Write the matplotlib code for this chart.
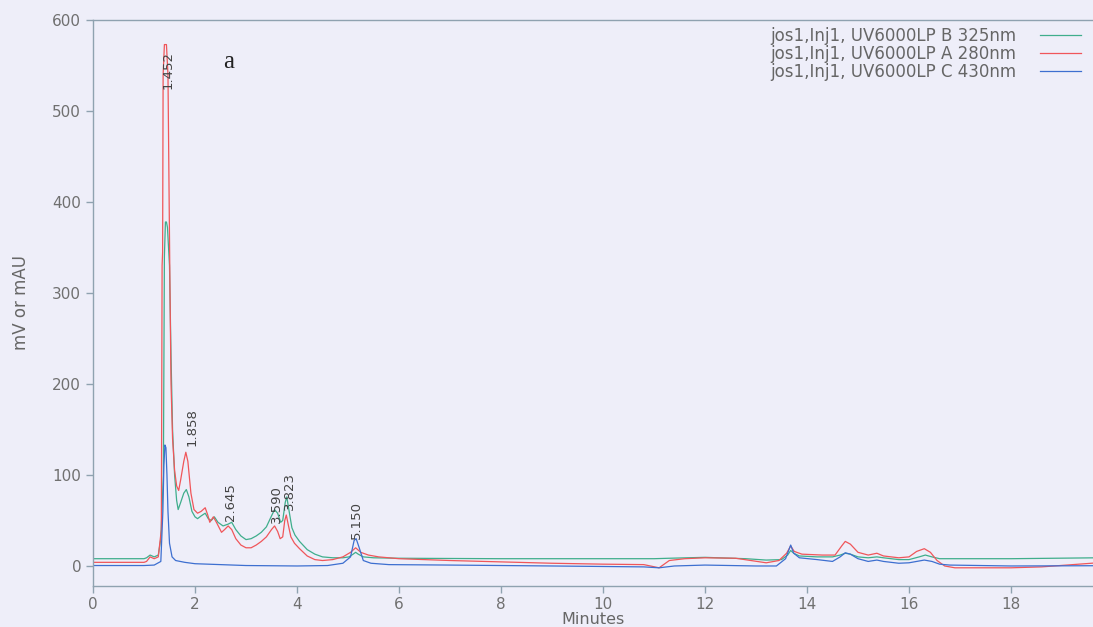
import matplotlib
matplotlib.use('Agg')
import matplotlib.pyplot as plt
import numpy as np

# chromatogram traces (time in min, signal in mV/mAU)
t_b = [0, 1.0, 1.05, 1.12, 1.2, 1.28, 1.33, 1.38, 1.40, 1.42, 1.44, 1.46, 1.50, 1.53, 1.56, 1.60,
       1.64, 1.67, 1.72, 1.78, 1.83, 1.88, 1.94, 2.0, 2.05, 2.12, 2.2, 2.26, 2.32, 2.38, 2.45, 2.55,
       2.65, 2.72, 2.8, 2.9, 3.0, 3.1, 3.2, 3.3, 3.4, 3.5, 3.56, 3.62, 3.68, 3.72, 3.77, 3.80, 3.84,
       3.9, 3.96, 4.05, 4.2, 4.35, 4.5, 4.7, 4.9, 5.02, 5.1, 5.15, 5.2, 5.3, 5.5, 6.0, 8.0, 10.0,
       11.0, 11.3, 12.0, 12.8, 13.2, 13.5, 13.62, 13.68, 13.74, 13.85, 14.2, 14.5, 14.65, 14.75,
       14.85, 15.0, 15.2, 15.37, 15.5, 15.8, 16.0, 16.2, 16.32, 16.45, 16.6, 16.8, 18.0, 19.7]
y_b = [8, 8, 9, 12, 10, 12, 30, 100, 340, 378, 378, 372, 330, 230, 150, 100,
       72, 62, 70, 80, 84, 76, 60, 54, 52, 55, 58, 52, 50, 54, 48, 44,
       46, 48, 40, 33, 29, 30, 33, 37, 43, 55, 62, 58, 48, 50, 70, 76, 62,
       42, 34, 27, 18, 13, 10, 9, 9, 10, 13, 15, 13, 10, 9, 8.5, 8, 8,
       8, 8.5, 9.5, 8, 6.5, 7, 12, 17, 14, 11, 10, 10, 12, 14,
       13, 10, 9, 10, 9, 7, 7, 10, 12, 10, 8, 8, 8, 9]

t_a = [0, 1.0, 1.05, 1.12, 1.2, 1.28, 1.34, 1.355, 1.365, 1.375, 1.40, 1.44, 1.47, 1.49, 1.51, 1.53,
       1.56, 1.60, 1.64, 1.68, 1.72, 1.78, 1.82, 1.86, 1.92, 1.98, 2.05, 2.12, 2.2, 2.25, 2.29,
       2.36, 2.42, 2.52, 2.58, 2.65, 2.72, 2.8, 2.9, 3.0, 3.1, 3.2, 3.3, 3.4, 3.5, 3.56, 3.62,
       3.67, 3.72, 3.76, 3.79, 3.83, 3.88, 3.95, 4.05, 4.2, 4.35, 4.5, 4.7, 4.9, 5.05, 5.15, 5.25,
       5.4, 5.6, 6.0, 7.0, 8.0, 9.0, 10.0, 10.8, 11.1, 11.3, 11.6, 12.0, 12.6, 12.9, 13.2, 13.45,
       13.6, 13.68, 13.75, 13.9, 14.3, 14.55, 14.68, 14.75, 14.85, 15.0, 15.2, 15.37, 15.5, 15.8,
       16.0, 16.15, 16.3, 16.42, 16.55, 16.7, 16.9, 18.0, 18.6, 19.7]
y_a = [4, 4, 5, 10, 8, 10, 40, 330, 345, 540, 573, 573, 540, 420, 300, 200,
       140, 105, 88, 83, 95, 115, 125, 115, 80, 62, 58, 60, 64, 56, 48,
       54, 48, 37, 40, 44, 40, 30, 23, 20, 20, 23, 27, 32, 40, 44, 38,
       30, 32, 50, 56, 45, 32, 25, 19, 11, 7, 6, 7, 10, 15, 20, 15,
       12, 10, 8, 6, 4.5, 3, 2, 1.5, -2, 6, 8, 9, 8.5, 6, 3.5, 6,
       14, 22, 16, 13, 12, 12, 22, 27, 24, 15, 12, 14, 11, 9,
       10, 16, 19, 15, 6, 0, -2, -2, -1, 3.5]

t_c = [0, 1.0, 1.2, 1.33, 1.37, 1.39, 1.41, 1.43, 1.45, 1.47, 1.50, 1.55, 1.62, 1.8, 2.0, 2.5,
       3.0, 4.0, 4.6, 4.9, 5.05, 5.12, 5.16, 5.22, 5.3, 5.45, 5.8, 7.0, 9.0, 10.8, 11.1, 11.4,
       12.0, 13.0, 13.4, 13.58, 13.68, 13.74, 13.85, 14.2, 14.5, 14.65, 14.75, 14.85, 15.0, 15.2,
       15.37, 15.5, 15.8, 16.0, 16.3, 16.45, 16.6, 16.8, 18.0, 19.7]
y_c = [0.5, 0.5, 1, 5, 60, 110, 133, 130, 100, 60, 25, 10, 6, 4, 2.5, 1.5,
       0.5, 0, 0.5, 3, 10, 28, 30, 20, 6, 3, 1.5, 1, 0, -1, -2, 0,
       1, 0, 0, 8, 23, 14, 9, 7, 5, 10, 14.5, 13, 8, 5,
       6.5, 5, 3, 3.5, 6.5, 5, 2, 1, 0, 0.3]

series_names = ['jos1,Inj1, UV6000LP B 325nm', 'jos1,Inj1, UV6000LP A 280nm', 'jos1,Inj1, UV6000LP C 430nm']
peak_names = ['1.452', '1.858', '2.645', '3.590', '3.823', '5.150']
peak_x = [1.47, 1.94, 2.69, 3.60, 3.86, 5.16]
peak_y = [524, 132, 49, 47, 61, 30]

bg = '#eeeef9'
fig = plt.figure(figsize=(10.93, 6.27), dpi=100, facecolor=bg)
ax = fig.add_axes([93 / 1093, 1 - 586 / 627, 1000 / 1093, 566 / 627])
ax.set_facecolor(bg)

ax.plot(t_b, y_b, color='#3fae8c', lw=0.9, label=series_names[0])
ax.plot(t_a, y_a, color='#f0565a', lw=0.9, label=series_names[1])
ax.plot(t_c, y_c, color='#3d6fd0', lw=0.9, label=series_names[2])

for name, px, py in zip(peak_names, peak_x, peak_y):
    ax.text(px, py, name, rotation=90, ha='center', va='bottom', fontsize=9.5, color='#444444')

ax.text(2.65, 554, 'a', fontsize=18, family='Liberation Serif', ha='center', va='center', color='#222222')

ax.set_xlim(0, 1000 / 51)
ax.set_ylim(-22, 600)
ax.set_xticks(np.arange(0, 20, 2))
ax.set_yticks([0, 100, 200, 300, 400, 500, 600])

for s in ['top', 'left', 'bottom']:
    ax.spines[s].set_color('#8fa2b0')
    ax.spines[s].set_linewidth(1.0)
ax.spines['right'].set_visible(False)

ax.tick_params(axis='both', colors='#8fa2b0', labelcolor='#707070', labelsize=11, length=5, width=1)
ax.tick_params(axis='x', pad=3)
ax.set_xlabel('Minutes', fontsize=11.5, color='#666666', labelpad=0)
ax.set_ylabel('mV or mAU', fontsize=12, color='#666666', labelpad=16)

leg = ax.legend(loc='upper right', bbox_to_anchor=(0.995, 1.0), frameon=False, markerfirst=False,
                fontsize=12, handlelength=2.5, handletextpad=1.4, labelspacing=0.0, borderaxespad=0)
for txt in leg.get_texts():
    txt.set_color('#666666')

fig.savefig('out.png', dpi=100, facecolor=bg)
